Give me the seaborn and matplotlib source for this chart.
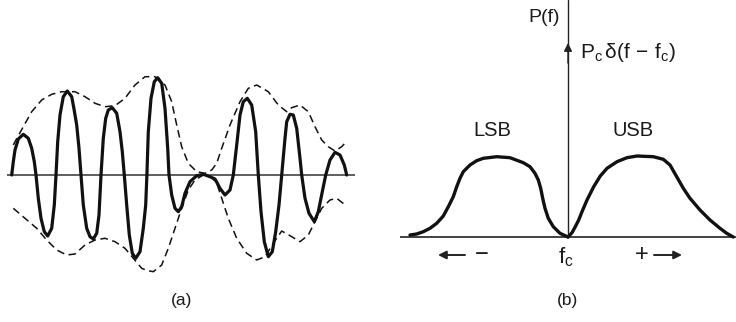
import matplotlib
matplotlib.use("Agg")
import matplotlib.pyplot as plt
import seaborn as sns

# ---------------- data: panel (a) amplitude-modulated waveform ----------------
wave_t = [-0.3, 1.3, 3, 6.3, 11.3, 16.3, 19.7, 22.3, 24, 26.3, 29, 32.3, 35.7, 39.7, 42.3,
          44, 45.7, 48, 51.3, 55.3, 59.7, 62, 64.7, 67, 69, 71.3, 74.7, 78, 81.3, 84.7,
          87, 89, 91.3, 93.7, 96.3, 100.3, 104.7, 108, 110.3, 112.3, 114.7, 117.3, 120.3,
          123.7, 128, 131.3, 133.7, 134.9, 136.3, 139, 142.3, 145.7, 149.7, 153, 155.7,
          157, 159.7, 163, 166.3, 169.7, 173, 178, 184.7, 191.3, 198, 203, 208, 213,
          218, 221.3, 224.7, 228, 231.3, 235.3, 239.7, 243.7, 246.3, 249, 252.3, 256.3,
          260.3, 263.7, 267, 269.7, 273, 274.7, 278, 281.3, 284.7, 288, 289.7, 293, 297,
          302.3, 306.3, 310.3, 313.7, 318, 323, 328, 332.3, 334.7]
wave_a = [0, 13.3, 25, 36, 40.7, 36.7, 26.7, 13.3, 0, -23.3, -43.3, -56.7, -61, -53.3, -30,
          0, 33.3, 60, 78.3, 84, 78.3, 66, 50, 26.7, 0, -30, -53.3, -61.7, -64, -58.3,
          -40, 0, 36.7, 56.7, 65, 67.3, 61.7, 43.3, 23.3, 0, -30, -60, -78.3,
          -83.3, -76.7, -53.3, -30, 0, 43.3, 76.7, 93.3, 97.3, 91.7, 66.7, 26.7,
          0, -20, -33.3, -36.7, -31.7, -18.3, -6.7, -0.7, 0.7, -1.7, -4, -13.3, -20,
          -15, 0, 30, 60, 73.3, 76.7, 70, 43.3, 0, -36.7, -66.7, -81.7,
          -76.7, -56.7, -30, 0, 36.7, 53.3, 60.7, 60, 46.7, 16.7, 0, -23.3, -38.3,
          -46.7, -36.7, -16.7, 0, 15, 22.7, 20, 10, 0]

upper_t = [1.3, 3, 11.3, 19.7, 29.7, 39.7, 49.7, 63, 73, 83, 93, 103, 113, 123, 133, 143,
           153, 159.7, 164.7, 169.7, 176.3, 184.7, 193, 199.7, 204.7, 209.7, 218, 228,
           236.3, 244.7, 256.3, 266.3, 274.7, 279.7, 288, 296.3, 303, 309.7, 316.3, 323,
           329.7, 333.7]
upper_a = [30, 33.3, 48.3, 63.3, 75, 80.7, 83.3, 83.3, 78.3, 71.7, 68.3, 69.3, 76.7, 90, 98.3,
           98.3, 90, 73.3, 50, 28.3, 11.7, 3.3, 1.7, 5, 11.7, 26.7, 50, 73.3,
           86.7, 90, 83.3, 70, 63.3, 67.3, 70, 63.3, 48.3, 35, 28.3, 24,
           28.3, 32.7]

lower_t = [1.3, 13, 24.7, 34.7, 44.7, 54.7, 63, 73, 83, 93, 103, 113, 121.3, 129.7, 135,
           141.3, 149.7, 156.3, 163, 169.7, 176.3, 183, 191.3, 199.7, 204.7, 209.7, 216.3,
           224.7, 234.7, 244.7, 253, 261.3, 269.7, 279.7, 288, 296.3, 303, 309.7, 318,
           324.7, 332.3]
lower_a = [-33.3, -43.3, -53.3, -65, -75, -80, -79, -70, -65, -63.3, -66.7, -73.3, -83.3,
           -93.3, -95.5, -96.7, -90, -73.3, -53.3, -33.3, -15, -5, 0, -2.7, -8, -23.3,
           -43.3, -63.3, -78.3, -85, -81.7, -68.3, -56, -61.7, -66.7, -60, -46.7, -33.3,
           -25, -23.3, -29.3]

# ---------------- data: panel (b) power spectrum ----------------
lsb_f = [-158, -151.3, -144.7, -138, -131.3, -124.7, -119.7, -114.7, -111.3, -108, -104.7,
         -98, -91.3, -84.7, -71.3, -58, -44.7, -38, -33, -29.7, -27.3, -25.3, -23, -19.7,
         -14.7, -8, 0]
lsb_p = [2, 3, 5.3, 8.7, 13.7, 21, 30.3, 40.3, 50.3, 58.7, 65.3,
         72, 76.3, 78.7, 80.3, 79.3, 74.3, 70.3, 63.7, 57, 48.7, 38.7, 28.7, 18.7,
         10.3, 3.7, 0]
usb_f = [0, 4, 7.3, 10.7, 14, 19, 25.7, 32.3, 39, 49, 59, 69, 85.3, 95.3, 102, 108.7,
         115.3, 122, 132, 142, 152, 158.7, 165.3]
usb_p = [0, 4.3, 10.3, 17, 25.3, 37, 50.3, 61, 68.7, 75.3, 79.3, 81, 80.3, 77.7, 72, 60.3,
         48.7, 38.7, 27, 17, 8.7, 3.7, 0]
carrier_f = 0
carrier_p = 194

sns.set_theme(style="white")
plt.rcParams['font.family'] = ['Liberation Sans', 'DejaVu Sans']
plt.rcParams['mathtext.fontset'] = 'custom'
plt.rcParams['mathtext.rm'] = 'Liberation Sans'
plt.rcParams['mathtext.it'] = 'Liberation Sans'
plt.rcParams['text.color'] = '#1a1a1a'

W, H = 736, 322
fig = plt.figure(figsize=(W / 100, H / 100), dpi=100)
fig.patch.set_facecolor('white')

# panel (a)
ax_a = fig.add_axes([0 / W, (H - 280) / H, 360 / W, 220 / H])
ax_a.set_xlim(-12, 348)
ax_a.set_ylim(-105, 115)
ax_a.axis('off')

ax_a.plot([-5, 343], [0, 0], color='#333333', lw=1.1, solid_capstyle='butt')
sns.lineplot(x=upper_t, y=upper_a, sort=False, estimator=None, ax=ax_a,
             color='#111111', lw=1.1)
ax_a.lines[-1].set_dashes((5, 3))
sns.lineplot(x=lower_t, y=lower_a, sort=False, estimator=None, ax=ax_a,
             color='#111111', lw=1.1)
ax_a.lines[-1].set_dashes((5, 3))
sns.lineplot(x=wave_t, y=wave_a, sort=False, estimator=None, ax=ax_a,
             color='#111111', lw=2.3)
ax_a.lines[-1].set_solid_joinstyle('round')

# panel (b)
ax_b = fig.add_axes([390 / W, (H - 280) / H, 346 / W, 280 / H])
ax_b.set_xlim(-178, 168)
ax_b.set_ylim(-43, 237)
ax_b.axis('off')

ax_b.plot([-168, 168], [0, 0], color='#222222', lw=1.2, solid_capstyle='butt')
ax_b.plot([0, 0], [0, 237], color='#222222', lw=1.0)
ax_b.annotate('', xy=(carrier_f, carrier_p), xytext=(carrier_f, carrier_p - 20),
              arrowprops=dict(arrowstyle='-|>', color='#222222', lw=1.0,
                              mutation_scale=12, shrinkA=0, shrinkB=0))
sns.lineplot(x=lsb_f, y=lsb_p, sort=False, estimator=None, ax=ax_b,
             color='#111111', lw=2.4)
ax_b.lines[-1].set_solid_joinstyle('round')
sns.lineplot(x=usb_f, y=usb_p, sort=False, estimator=None, ax=ax_b,
             color='#111111', lw=2.4)
ax_b.lines[-1].set_solid_joinstyle('round')

fs = 14
ax_b.text(-8, 220, 'P(f)', ha='right', va='center', fontsize=fs)
ax_b.text(12, 184, r'$\mathrm{P_c\,\delta(f\,-\,f_c)}$', ha='left', va='center', fontsize=fs + 1)
ax_b.text(-76, 107, 'LSB', ha='center', va='center', fontsize=fs + 0.5)
ax_b.text(65, 107, 'USB', ha='center', va='center', fontsize=fs + 0.5)
ax_b.text(-2, -20, r'$\mathrm{f_c}$', ha='center', va='center', fontsize=fs + 2)
ax_b.annotate('', xy=(-130, -18), xytext=(-103, -18),
              arrowprops=dict(arrowstyle='-|>', color='#222222', lw=1.4,
                              mutation_scale=12, shrinkA=0, shrinkB=0))
ax_b.text(-86, -18, '\u2212', ha='center', va='center', fontsize=fs + 3)
ax_b.text(74, -18, '+', ha='center', va='center', fontsize=fs + 3)
ax_b.annotate('', xy=(114, -18), xytext=(86, -18),
              arrowprops=dict(arrowstyle='-|>', color='#222222', lw=1.4,
                              mutation_scale=12, shrinkA=0, shrinkB=0))

fig.text(182 / W, 1 - 300 / H, '(a)', ha='center', va='center', fontsize=12.5)
fig.text(567 / W, 1 - 300 / H, '(b)', ha='center', va='center', fontsize=12.5)

fig.savefig('out.png', dpi=100, facecolor='white')
